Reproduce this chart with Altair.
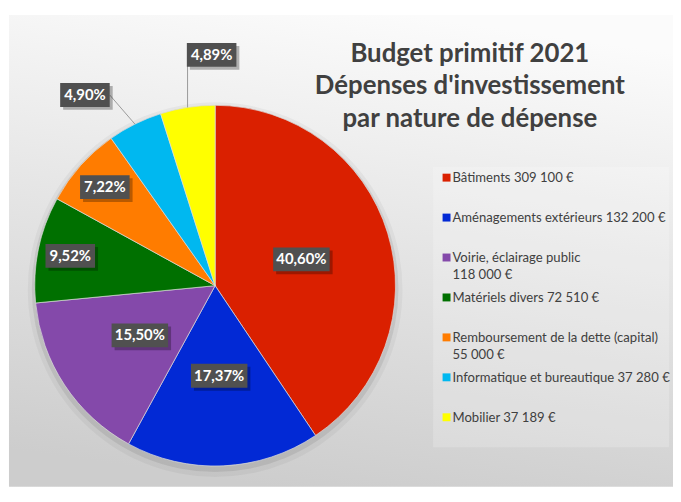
import altair as alt
import pandas as pd
import math

# ---- data ----
names = ["Bâtiments", "Aménagements extérieurs", "Voirie, éclairage public",
         "Matériels divers", "Remboursement de la dette (capital)",
         "Informatique et bureautique", "Mobilier"]
values = [309100, 132200, 118000, 72510, 55000, 37280, 37189]
legend_labels = ["Bâtiments 309 100 €", "Aménagements extérieurs 132 200 €",
                 "Voirie, éclairage public\n118 000 €", "Matériels divers 72 510 €",
                 "Remboursement de la dette (capital)\n55 000 €",
                 "Informatique et bureautique 37 280 €", "Mobilier 37 189 €"]
colors = ["#DA2000", "#0229D5", "#8449AA", "#007000", "#FF7C00", "#00B8F0", "#FFFF00"]
title_lines = ["Budget primitif 2021", "Dépenses d'investissement", "par nature de dépense"]

df = pd.DataFrame({"idx": list(range(len(names))), "name": names,
                   "value": values, "legend": legend_labels})
tdf = pd.DataFrame({"i": list(range(len(title_lines))), "t": title_lines})
one = pd.DataFrame({"a": [0]})

# ---- layout constants ----
W, H = 670, 476
CX, CY, R = 208, 273, 182
FONT = "Lato"
TXT = "#404040"

base = alt.Chart(df)
color_enc = alt.Color("name:N", scale=alt.Scale(domain=names, range=colors), legend=None)

bg = alt.Chart(one).mark_rect(
    fill=alt.LinearGradient(
        gradient="linear", x1=0.6, y1=0, x2=0.4, y2=1,
        stops=[alt.GradientStop(color="#fbfbfb", offset=0),
               alt.GradientStop(color="#e6e6e6", offset=0.45),
               alt.GradientStop(color="#cdcdcd", offset=1)])
).encode(x=alt.value(0), x2=alt.value(W), y=alt.value(0), y2=alt.value(H))

shadow1 = alt.Chart(one).mark_arc(theta=0, theta2=2 * math.pi, outerRadius=R + 7,
                                  color="black", opacity=0.04).encode(
    x=alt.value(CX), y=alt.value(CY + 4))
shadow2 = alt.Chart(one).mark_arc(theta=0, theta2=2 * math.pi, outerRadius=R + 3,
                                  color="black", opacity=0.08).encode(
    x=alt.value(CX), y=alt.value(CY + 3))

pie = base.mark_arc(outerRadius=R, stroke="#dcdcdc", strokeWidth=0.7).encode(
    theta=alt.Theta("value:Q", stack=True),
    color=color_enc,
    order=alt.Order("idx:Q"),
    x=alt.value(CX), y=alt.value(CY),
)

lab = base.transform_joinaggregate(total="sum(value)").transform_window(
    cum="sum(value)", sort=[alt.SortField("idx", order="ascending")], frame=[None, 0]
).transform_calculate(
    frac="datum.value / datum.total",
    mid="(datum.cum - datum.value / 2) / datum.total * 2 * PI",
    grp="datum.value / datum.total < 0.06 ? 1 : 0",
).transform_joinaggregate(
    meanMid="mean(mid)", groupby=["grp"]
).transform_calculate(
    la="datum.grp == 1 ? datum.meanMid + 1.9 * (datum.mid - datum.meanMid) : datum.mid",
    lr=f"datum.frac >= 0.12 ? {0.5 * R} : (datum.frac >= 0.06 ? {0.82 * R} : {1.28 * R})",
    lx=f"{CX} + datum.lr * sin(datum.la)",
    ly=f"{CY} - datum.lr * cos(datum.la)",
    ex=f"{CX} + {R} * sin(datum.mid)",
    ey=f"{CY} - {R} * cos(datum.mid)",
    txt="replace(format(datum.frac * 100, '.2f'), '.', ',') + '%'",
    bw="7 * length(datum.txt) + 15",
    bx1="datum.lx - datum.bw / 2",
    bx2="datum.lx + datum.bw / 2",
    by1="datum.ly - 12",
    by2="datum.ly + 12",
    sx1="datum.bx1 + 3", sx2="datum.bx2 + 3", sy1="datum.by1 + 3", sy2="datum.by2 + 3",
    lx2="clamp(datum.ex, datum.bx1, datum.bx2)",
)

leader = lab.transform_filter("datum.grp == 1").mark_rule(color="#9a9a9a", strokeWidth=1).encode(
    x=alt.X("ex:Q", scale=None, axis=None), y=alt.Y("ey:Q", scale=None, axis=None),
    x2="lx2:Q", y2="ly:Q")
box_sh = lab.mark_rect(color="black", opacity=0.28).encode(
    x=alt.X("sx1:Q", scale=None, axis=None), x2="sx2:Q",
    y=alt.Y("sy1:Q", scale=None, axis=None), y2="sy2:Q")
box = lab.mark_rect(color="#505050").encode(
    x=alt.X("bx1:Q", scale=None, axis=None), x2="bx2:Q",
    y=alt.Y("by1:Q", scale=None, axis=None), y2="by2:Q")
txt = lab.mark_text(font=FONT, fontSize=15, fontWeight="bold", color="white",
                    align="center", baseline="middle").encode(
    x=alt.X("lx:Q", scale=None, axis=None), y=alt.Y("ly:Q", scale=None, axis=None),
    text="txt:N")

# legend
leg_bg = alt.Chart(one).mark_rect(color="white", opacity=0.2).encode(
    x=alt.value(428), x2=alt.value(666), y=alt.value(153), y2=alt.value(436))
leg = base.transform_calculate(
    ly="164 + 40.3 * datum.idx", sx="441.5", tx="447.5")
leg_sq = leg.mark_square(size=64, opacity=1, filled=True).encode(
    x=alt.X("sx:Q", scale=None, axis=None), y=alt.Y("ly:Q", scale=None, axis=None),
    color=color_enc)
leg_tx = leg.transform_calculate(ty="datum.ly + 4.5").mark_text(
    font=FONT, fontSize=13.2, color=TXT, align="left", baseline="alphabetic",
    lineBreak="\n", lineHeight=17).encode(
    x=alt.X("tx:Q", scale=None, axis=None), y=alt.Y("ty:Q", scale=None, axis=None),
    text="legend:N")

title = alt.Chart(tdf).transform_calculate(
    ty="39 + 33 * datum.i", tx="465").mark_text(
    font=FONT, fontSize=26, fontWeight="bold", color=TXT,
    align="center", baseline="middle").encode(
    x=alt.X("tx:Q", scale=None, axis=None), y=alt.Y("ty:Q", scale=None, axis=None),
    text="t:N")

chart = alt.layer(bg, shadow1, shadow2, pie, leader, box_sh, box, txt,
                  leg_bg, leg_sq, leg_tx, title).properties(
    width=W, height=H,
    padding={"left": 1, "top": 5, "right": 0, "bottom": 0},
    autosize=alt.AutoSizeParams(type="none"),
).configure_view(stroke=None)

chart.save("out.html", embed_options={"renderer": "svg", "actions": False})
